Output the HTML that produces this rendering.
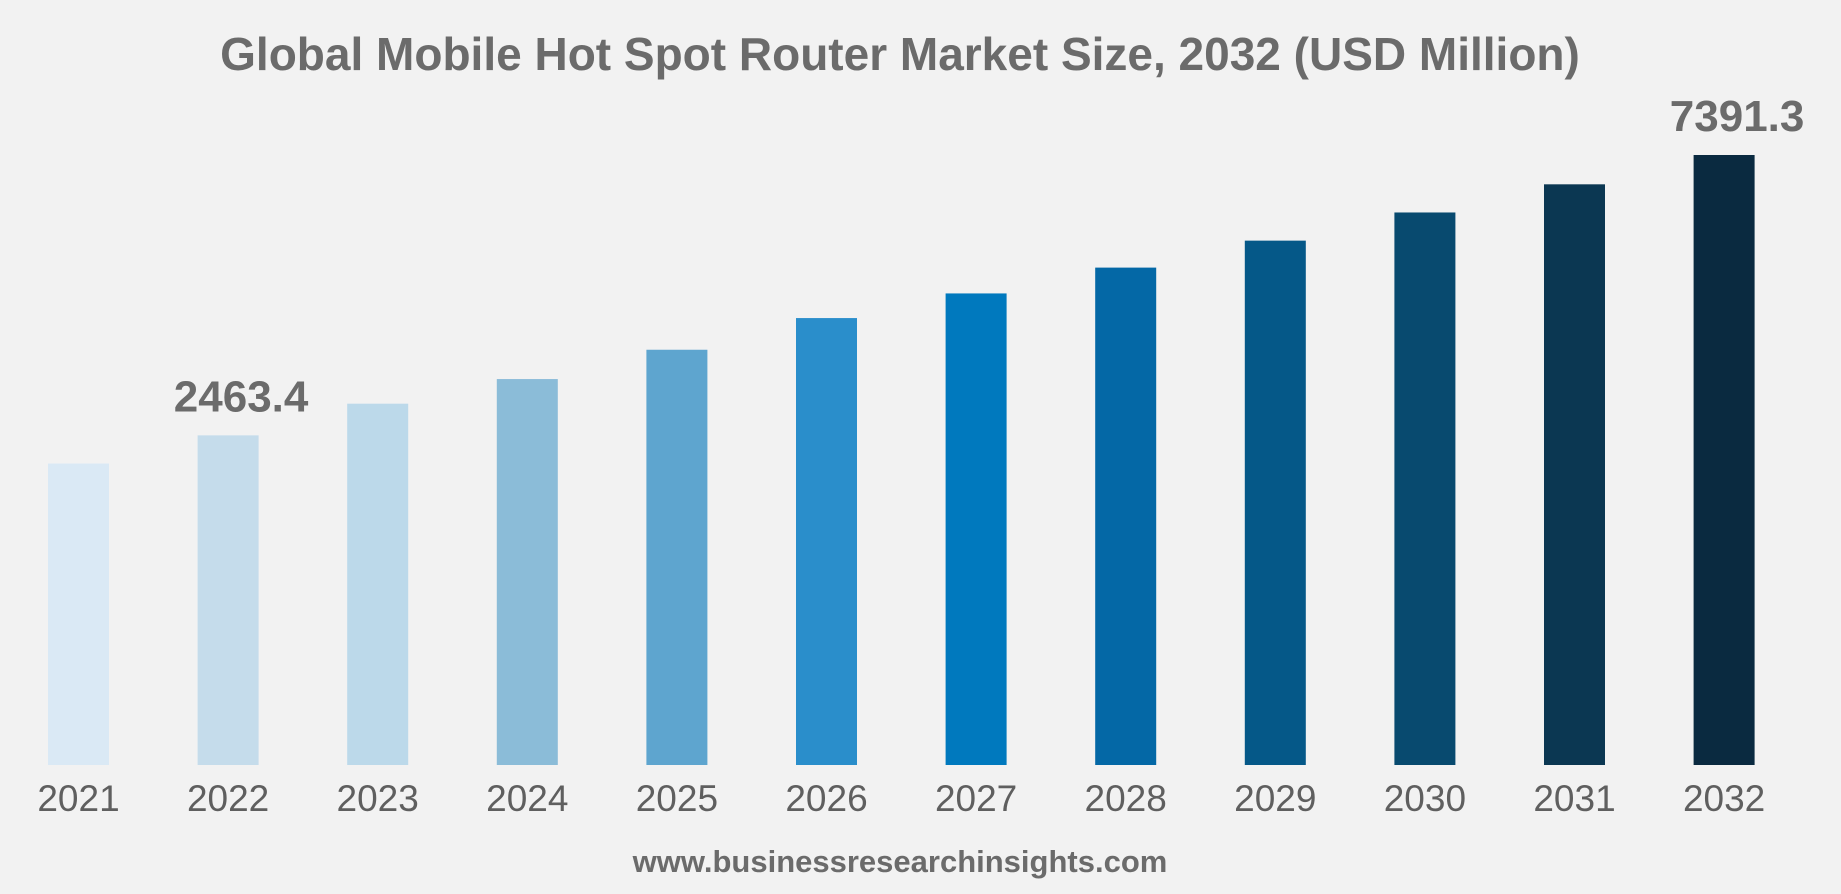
<!DOCTYPE html>
<html><head><meta charset="utf-8"><style>
body{margin:0;background:#f2f2f2;}
svg{display:block;font-family:"Liberation Sans",sans-serif;}
</style></head><body>
<svg id="chart" width="1841" height="894">
<rect width="1841" height="894" fill="#f2f2f2"/>
<text x="900" y="70" text-anchor="middle" font-size="46" font-weight="bold" fill="#6b6b6b">Global Mobile Hot Spot Router Market Size, 2032 (USD Million)</text>
<g id="bars"></g>
<text x="900" y="872" text-anchor="middle" font-size="31" font-weight="bold" fill="#6b6b6b">www.businessresearchinsights.com</text>
</svg>
<script>
const categories=["2021","2022","2023","2024","2025","2026","2027","2028","2029","2030","2031","2032"];
const values=[1968,2463.4,3020,3453,3968,4525,4958,5412,5886,6381,6876,7391.3];
const labeled=["2022","2032"];
const colors=["#dae9f5","#c5dceb","#bcd9ea","#8bbcd8","#5ea5cf","#2a8ecb","#0079be","#0468a6","#055888","#084a6f","#0b3752","#0a2a40"];
const yMin=-3331,yMax=7391.3,plotBase=765,plotTop=155;
function yScale(v){return plotBase-(v-yMin)/(yMax-yMin)*(plotBase-plotTop);}
function xScale(i){return 48+i*149.6;}
const bw=61,g=document.getElementById('bars'),NS="http://www.w3.org/2000/svg";
categories.forEach((c,i)=>{
 const r=document.createElementNS(NS,'rect');
 r.setAttribute('x',xScale(i));r.setAttribute('y',yScale(values[i]));
 r.setAttribute('width',bw);r.setAttribute('height',plotBase-yScale(values[i]));
 r.setAttribute('fill',colors[i]);
 
 
 g.appendChild(r);
 const t=document.createElementNS(NS,'text');
 t.setAttribute('x',xScale(i)+bw/2);t.setAttribute('y',811);
 t.setAttribute('text-anchor','middle');t.setAttribute('font-size','37');t.setAttribute('fill','#5f5f5f');
 t.textContent=c;
 
 
 g.appendChild(t);
 if(labeled.includes(c)){
  const l=document.createElementNS(NS,'text');
  l.setAttribute('x',xScale(i)+bw/2+13);l.setAttribute('y',yScale(values[i])-24);
  l.setAttribute('text-anchor','middle');l.setAttribute('font-size','44');l.setAttribute('font-weight','bold');l.setAttribute('fill','#6b6b6b');
  l.textContent=values[i].toFixed(1);
  
  
  g.appendChild(l);
 }
});
</script>
</body></html>
